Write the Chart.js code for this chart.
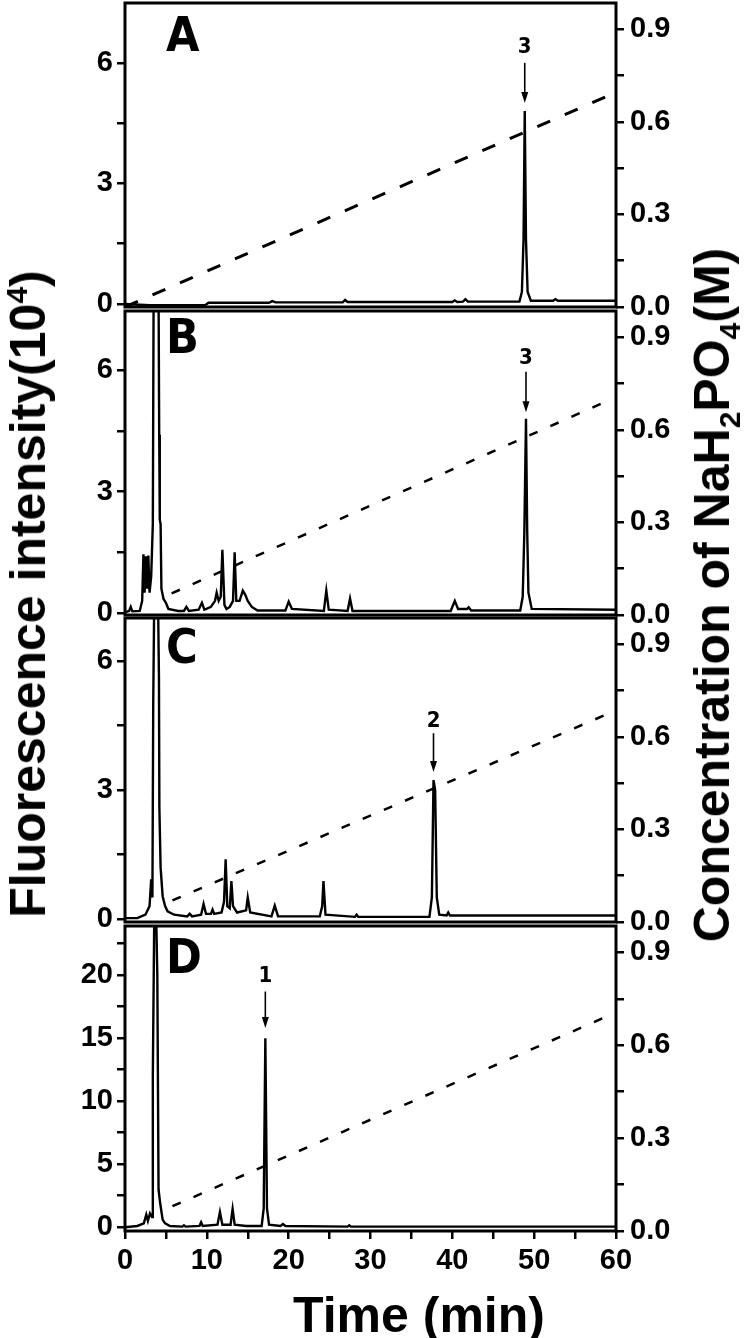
<!DOCTYPE html>
<html>
<head>
  <meta charset="UTF-8">
  <title>Fluorescence chromatograms A-D</title>
  <script src="https://cdn.jsdelivr.net/npm/chart.js"></script>
  <style>
    body { margin: 0; background: #fff; }
    #wrap { position: relative; width: 750px; height: 1338px; overflow: hidden; font-family: "Liberation Sans", Arial, sans-serif; color: #000; }
    #wrap canvas { position: absolute; left: 0; }
    .axis-title { position: absolute; font-weight: bold; font-size: 50px; line-height: 1; white-space: nowrap; }
    .axis-title sup, .axis-title sub { font-size: 30px; line-height: 0; }
    .tag { position: absolute; font-family: "Liberation Sans Narrow", "DejaVu Sans Condensed", sans-serif; font-weight: bold; font-size: 48px; line-height: 1; }
  </style>
</head>
<body>
<div id="wrap">
  <canvas id="cA" width="750" height="330"></canvas>
  <canvas id="cB" width="750" height="345"></canvas>
  <canvas id="cC" width="750" height="345"></canvas>
  <canvas id="cD" width="750" height="432"></canvas>

  <div class="tag" style="left:166px; top:10px;">A</div>
  <div class="tag" style="left:166px; top:312px;">B</div>
  <div class="tag" style="left:166px; top:622px;">C</div>
  <div class="tag" style="left:166px; top:932px;">D</div>

  <div class="axis-title" id="yTitle" style="left:28px; top:594px; transform: translate(-50%, -50%) rotate(-90deg);">Fluorescence intensity(10<sup>4</sup>)</div>
  <div class="axis-title" id="y2Title" style="left:712px; top:595px; transform: translate(-50%, -50%) rotate(-90deg);">Concentration of NaH<sub>2</sub>PO<sub>4</sub>(M)</div>
  <div class="axis-title" id="xTitle" style="left:419px; top:1290px; transform: translateX(-50%);">Time (min)</div>
</div>

<script>
  // --- traces: retention time (min) / fluorescence (10^4) ---
  const timeA  = [0, 3, 9.8, 10.2, 17.6, 18, 18.4, 26.6, 26.9, 27.2, 40.0, 40.3, 40.6, 41.3, 41.6, 41.9,
                  48.2, 48.5, 48.7, 48.85, 49.0, 49.2, 49.6, 52.3, 52.6, 52.9, 60];
  const fluorA = [0.0, -0.03, -0.03, 0.03, 0.03, 0.07, 0.04, 0.04, 0.1, 0.05, 0.05, 0.09, 0.05, 0.06, 0.12, 0.06,
                  0.06, 0.3, 1.6, 4.8, 1.6, 0.3, 0.08, 0.08, 0.12, 0.08, 0.08];

  const timeB  = [0, 0.5, 0.7, 0.9, 1.8, 2.1, 2.25, 2.4, 2.55, 2.7, 2.85, 3.0, 3.2, 3.4, 3.5, 3.8, 4.1,
                  4.18, 4.25, 4.35, 4.45, 4.7, 5.0, 5.3, 6.5, 7.2, 7.5, 7.8, 9.0, 9.4, 9.7, 10.5, 11.0, 11.2,
                  11.45, 11.7, 11.9, 12.15, 12.4, 12.8, 13.2, 13.4, 13.6, 14.0, 14.4, 14.7, 15.0, 15.5,
                  16.2, 19.6, 20.0, 20.4, 24.3, 24.6, 24.9, 27.2, 27.5, 27.8, 39.8, 40.3, 40.7, 41.8,
                  42.0, 42.3, 48.3, 48.6, 48.8, 49.0, 49.15, 49.3, 49.7, 60];
  const fluorB = [0.02, 0.05, 0.15, 0.04, 0.05, 0.3, 1.45, 0.5, 1.4, 0.6, 1.42, 0.5, 0.9, 2.2, 8, 12, 8,
                  4.4, 2.3, 2.2, 0.6, 0.35, 0.25, 0.1, 0.05, 0.05, 0.15, 0.05, 0.08, 0.25, 0.08, 0.15, 0.3, 0.5,
                  0.3, 0.4, 1.56, 0.2, 0.1, 0.15, 0.3, 1.5, 0.3, 0.3, 0.55, 0.45, 0.3, 0.15,
                  0.06, 0.06, 0.28, 0.1, 0.05, 0.55, 0.08, 0.05, 0.36, 0.05, 0.05, 0.3, 0.1, 0.1,
                  0.14, 0.06, 0.06, 0.4, 2.0, 4.8, 2.0, 0.5, 0.1, 0.08];

  const timeC  = [0, 1.5, 2.5, 3.0, 3.2, 3.35, 3.45, 3.7, 4.0, 4.15, 4.2, 4.35, 4.6, 4.9, 5.2, 6.0, 7.6, 7.9, 8.2,
                  9.3, 9.6, 9.9, 10.5, 10.7, 10.9, 11.8, 12.1, 12.3, 12.5, 12.8, 13.0, 13.2, 13.7, 14.8,
                  15.0, 15.3, 17.9, 18.3, 18.7, 23.8, 24.1, 24.25, 24.5, 28.1, 28.3, 28.5, 37.2, 37.5,
                  37.7, 37.9, 38.1, 38.4, 39.3, 39.5, 39.7, 60];
  const fluorC = [0.02, 0.02, 0.1, 0.3, 0.92, 0.5, 5, 10, 8, 5.6, 2.6, 1.2, 0.53, 0.3, 0.18, 0.1, 0.06, 0.12, 0.06,
                  0.1, 0.35, 0.12, 0.12, 0.22, 0.12, 0.15, 0.4, 1.39, 0.3, 0.25, 0.88, 0.3, 0.15, 0.2,
                  0.5, 0.15, 0.06, 0.31, 0.06, 0.06, 0.3, 0.88, 0.1, 0.05, 0.1, 0.05, 0.05, 0.5,
                  3.23, 3.0, 0.5, 0.1, 0.08, 0.15, 0.08, 0.08];

  const timeD  = [0, 1.5, 2.3, 2.6, 2.8, 3.05, 3.3, 3.4, 3.65, 3.95, 4.1, 4.3, 4.6, 4.9, 5.5, 7.0, 7.2, 7.4,
                  9.1, 9.3, 9.5, 11.3, 11.6, 11.9, 12.9, 13.15, 13.4, 14.8, 16.7, 16.95, 17.15, 17.35,
                  17.6, 19.0, 19.3, 19.6, 27.2, 27.4, 27.6, 60];
  const fluorD = [0.0, 0.1, 0.3, 1.0, 0.5, 1.1, 0.8, 12, 30, 20, 3, 1.9, 0.6, 0.3, 0.1, 0.05, 0.15, 0.05,
                  0.1, 0.4, 0.1, 0.2, 1.2, 0.2, 0.2, 1.45, 0.2, 0.1, 0.1, 1.5, 15, 1.5,
                  0.2, 0.1, 0.25, 0.1, 0.05, 0.15, 0.05, 0.05];

  // --- NaH2PO4 gradient (dashed line), start and end point, M ---
  const gradTimeA = [0, 59.5];   const gradConcA = [0.0, 0.69];
  const gradTimeB = [5.7, 59.5]; const gradConcB = [0.07, 0.70];
  const gradTimeC = [5.8, 59.5]; const gradConcC = [0.07, 0.68];
  const gradTimeD = [5.8, 59.5]; const gradConcD = [0.08, 0.70];

  // --- labelled peaks ---
  const peakTimes  = [48.85, 49.0, 37.7, 17.15];
  const peakLabels = ['3', '3', '2', '1'];

  // --- axis ticks ---
  const xTickStep = 5, xLabelStep = 10;
  const concTickStep = 0.15, concLabelStep = 0.3;

  Chart.defaults.font.family = '"Liberation Sans", Arial, sans-serif';
  Chart.defaults.color = '#000';

  const panels = [
    { id: 'cA', top: 0,   padTop: 3,  padBottom: 23, yMin: -0.075, yMax: 7.49, yStep: 1.5, yLabel: 3,
      time: timeA, fluor: fluorA, gTime: gradTimeA, gConc: gradConcA, dash: [14, 16], dashW: 3,
      arrow: { tip: 5.0, top: 6.0, text: 6.4 }, showX: false },
    { id: 'cB', top: 290, padTop: 21, padBottom: 20, yMin: -0.05, yMax: 7.46, yStep: 1.5, yLabel: 3,
      time: timeB, fluor: fluorB, gTime: gradTimeB, gConc: gradConcB, dash: [9, 14], dashW: 2.5,
      arrow: { tip: 4.96, top: 5.96, text: 6.3 }, showX: false },
    { id: 'cC', top: 597, padTop: 21, padBottom: 20, yMin: -0.07, yMax: 7.0, yStep: 1.5, yLabel: 3,
      time: timeC, fluor: fluorC, gTime: gradTimeC, gConc: gradConcC, dash: [9, 14], dashW: 2.5,
      arrow: { tip: 3.42, top: 4.32, text: 4.6 }, showX: false },
    { id: 'cD', top: 906, padTop: 20, padBottom: 0, yMin: -0.3, yMax: 23.9, yStep: 2.5, yLabel: 5,
      time: timeD, fluor: fluorD, gTime: gradTimeD, gConc: gradConcD, dash: [9, 14], dashW: 2.5,
      arrow: { tip: 15.8, top: 18.7, text: 19.9 }, showX: true }
  ];

  // box around each plot area
  const framePlugin = {
    id: 'frame',
    afterDatasetsDraw(chart) {
      const { ctx, chartArea: a } = chart;
      ctx.save();
      ctx.lineWidth = 3;
      ctx.strokeStyle = '#000';
      ctx.strokeRect(a.left, a.top, a.right - a.left, a.bottom - a.top);
      ctx.restore();
    }
  };

  // arrow + number above the labelled peak
  const arrowPlugin = {
    id: 'peakArrow',
    afterDatasetsDraw(chart, args, o) {
      const ctx = chart.ctx;
      const x = chart.scales.x.getPixelForValue(o.t);
      const yTip = chart.scales.y.getPixelForValue(o.tip);
      const yTop = chart.scales.y.getPixelForValue(o.top);
      ctx.save();
      ctx.strokeStyle = '#000';
      ctx.fillStyle = '#000';
      ctx.lineWidth = 1.6;
      ctx.beginPath();
      ctx.moveTo(x, yTop);
      ctx.lineTo(x, yTip - 8);
      ctx.stroke();
      ctx.beginPath();
      ctx.moveTo(x - 3.5, yTip - 11);
      ctx.lineTo(x + 3.5, yTip - 11);
      ctx.lineTo(x, yTip);
      ctx.closePath();
      ctx.fill();
      ctx.font = 'bold 22px "Liberation Sans Narrow", "DejaVu Sans Condensed", sans-serif';
      ctx.textAlign = 'center';
      ctx.textBaseline = 'middle';
      ctx.fillText(o.label, x, chart.scales.y.getPixelForValue(o.text));
      ctx.restore();
    }
  };

  const tickFont = { size: 29, weight: 'bold' };
  const tickGrid = { drawOnChartArea: false, drawTicks: true, tickLength: 8, tickWidth: 2.5, lineWidth: 2.5, color: '#000', tickColor: '#000' };

  panels.forEach((p, i) => {
    const canvas = document.getElementById(p.id);
    canvas.style.top = p.top + 'px';

    new Chart(canvas.getContext('2d'), {
      type: 'line',
      data: {
        datasets: [
          {
            data: p.time.map((t, k) => ({ x: t, y: p.fluor[k] })),
            yAxisID: 'y',
            borderColor: '#000',
            borderWidth: 2.4,
            pointRadius: 0,
            tension: 0
          },
          {
            data: p.gTime.map((t, k) => ({ x: t, y: p.gConc[k] })),
            yAxisID: 'y2',
            borderColor: '#000',
            borderWidth: p.dashW,
            borderDash: p.dash,
            pointRadius: 0
          }
        ]
      },
      options: {
        responsive: false,
        animation: false,
        devicePixelRatio: 1,
        layout: { padding: { top: p.padTop, bottom: p.padBottom, left: 0, right: 0 } },
        plugins: {
          legend: { display: false },
          tooltip: { enabled: false },
          peakArrow: { t: peakTimes[i], label: peakLabels[i], tip: p.arrow.tip, top: p.arrow.top, text: p.arrow.text }
        },
        scales: {
          x: {
            type: 'linear',
            min: 0, max: 60,
            display: p.showX,
            border: { display: false },
            grid: tickGrid,
            ticks: {
              stepSize: xTickStep,
              maxTicksLimit: 20,
              autoSkip: false,
              maxRotation: 0,
              padding: 5,
              font: tickFont,
              callback: v => (v % xLabelStep === 0 ? v : '')
            },
            afterFit(s) { s.height = p.showX ? 107 : 0; s.paddingLeft = 0; s.paddingRight = 0; }
          },
          y: {
            position: 'left',
            min: p.yMin, max: p.yMax,
            border: { display: false },
            grid: tickGrid,
            ticks: {
              stepSize: p.yStep,
              includeBounds: false,
              autoSkip: false,
              padding: 4,
              font: tickFont,
              callback: v => (Math.abs(v % p.yLabel) < 1e-6 ? v : '')
            },
            afterFit(s) { s.width = 125; s.paddingTop = 0; s.paddingBottom = 0; }
          },
          y2: {
            position: 'right',
            min: 0, max: 0.985,
            border: { display: false },
            grid: tickGrid,
            ticks: {
              stepSize: concTickStep,
              includeBounds: false,
              autoSkip: false,
              padding: 6,
              font: tickFont,
              callback: v => (Math.round(v * 100) % Math.round(concLabelStep * 100) === 0 ? v.toFixed(1) : '')
            },
            afterFit(s) { s.width = 134; s.paddingTop = 0; s.paddingBottom = 0; }
          }
        }
      },
      plugins: [framePlugin, arrowPlugin]
    });
  });
</script>
</body>
</html>
